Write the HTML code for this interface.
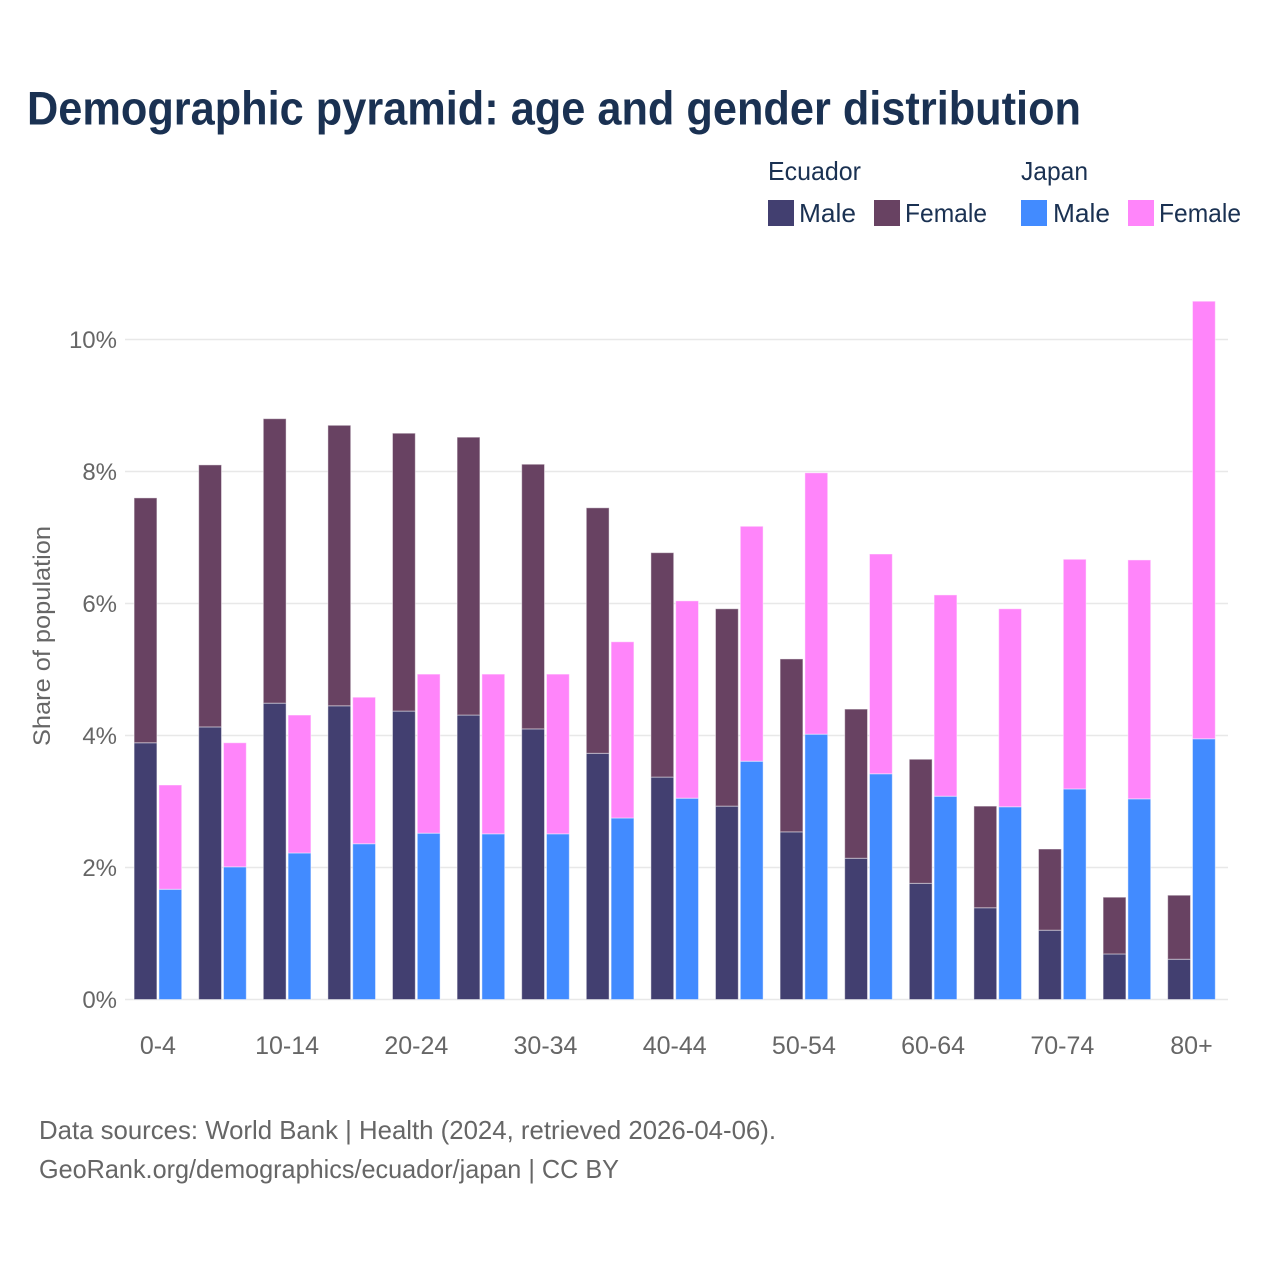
<!DOCTYPE html>
<html lang="en">
<head>
<meta charset="utf-8">
<title>Demographic pyramid</title>
<style>
html,body{margin:0;padding:0;background:#fff;}
svg{display:block;font-family:"Liberation Sans",sans-serif;}
</style>
</head>
<body>
<svg id="chart" xmlns="http://www.w3.org/2000/svg" width="1280" height="1280" viewBox="0 0 1280 1280">
  <rect x="0" y="0" width="1280" height="1280" fill="#ffffff"/>
  <text x="27" y="124.5" font-size="47" font-weight="700" fill="#1a3152" textLength="1054" lengthAdjust="spacingAndGlyphs">Demographic pyramid: age and gender distribution</text>

  <g font-size="26" fill="#1a3152">
    <text x="768" y="180" textLength="93" lengthAdjust="spacingAndGlyphs">Ecuador</text>
    <text x="1021" y="180" textLength="67" lengthAdjust="spacingAndGlyphs">Japan</text>
    <rect x="768" y="200" width="26" height="26" fill="#423f70"/>
    <text x="799" y="222" textLength="57" lengthAdjust="spacingAndGlyphs">Male</text>
    <rect x="874" y="200" width="26" height="26" fill="#684262"/>
    <text x="905" y="222" textLength="82" lengthAdjust="spacingAndGlyphs">Female</text>
    <rect x="1021" y="200" width="26" height="26" fill="#428bff"/>
    <text x="1053" y="222" textLength="57" lengthAdjust="spacingAndGlyphs">Male</text>
    <rect x="1128" y="200" width="26" height="26" fill="#ff85fa"/>
    <text x="1159" y="222" textLength="82" lengthAdjust="spacingAndGlyphs">Female</text>
  </g>

  <g id="grid"></g>
  <g id="bars"></g>
  <g id="y-axis"></g>
  <g id="x-axis"></g>

  <text transform="translate(50 636) rotate(-90)" text-anchor="middle" font-size="24" fill="#666666" textLength="220" lengthAdjust="spacingAndGlyphs">Share of population</text>

  <text x="39" y="1139" font-size="26" fill="#666666" textLength="737" lengthAdjust="spacingAndGlyphs">Data sources: World Bank | Health (2024, retrieved 2026-04-06).</text>
  <text x="39" y="1178" font-size="26" fill="#666666" textLength="580" lengthAdjust="spacingAndGlyphs">GeoRank.org/demographics/ecuador/japan | CC BY</text>
</svg>
<script>
const categories = ['0-4','5-9','10-14','15-19','20-24','25-29','30-34','35-39','40-44','45-49','50-54','55-59','60-64','65-69','70-74','75-79','80+'];
const ecuadorMale = [3.89,4.13,4.49,4.45,4.37,4.31,4.10,3.73,3.37,2.93,2.54,2.14,1.76,1.39,1.05,0.69,0.61];
const ecuadorFemale = [3.71,3.97,4.31,4.25,4.21,4.21,4.01,3.72,3.40,2.99,2.62,2.26,1.88,1.54,1.23,0.86,0.97];
const japanMale = [1.67,2.01,2.22,2.36,2.52,2.51,2.51,2.75,3.05,3.61,4.02,3.42,3.08,2.92,3.19,3.04,3.95];
const japanFemale = [1.58,1.88,2.09,2.22,2.41,2.42,2.42,2.67,2.99,3.56,3.96,3.33,3.05,3.00,3.48,3.62,6.63];
const yTicks = [0,2,4,6,8,10];
const xTickEvery = 2;

const NS = 'http://www.w3.org/2000/svg';
const plotLeft = 125;
const plotRight = 1228;
const plotBottom = 999.5;
const pxPerPercent = 66;
const bandStart = 157.9;
const bandStep = 64.6;
const barWidth = 22.8;
const barOffset = 12.4;

function yScale(v) { return plotBottom - v * pxPerPercent; }
function xScale(i) { return bandStart + i * bandStep; }

const gridGroup = document.getElementById('grid');
const barsGroup = document.getElementById('bars');
const yAxisGroup = document.getElementById('y-axis');
const xAxisGroup = document.getElementById('x-axis');

yTicks.forEach(function (t) {
  const line = document.createElementNS(NS, 'line');
  
  
  line.setAttribute('x1', plotLeft);
  line.setAttribute('x2', plotRight);
  line.setAttribute('y1', yScale(t));
  line.setAttribute('y2', yScale(t));
  line.setAttribute('stroke', '#e8e8e8');
  line.setAttribute('stroke-width', '1.5');
  gridGroup.appendChild(line);

  const label = document.createElementNS(NS, 'text');
  
  
  label.setAttribute('x', 117);
  label.setAttribute('y', yScale(t) + 8.5);
  label.setAttribute('text-anchor', 'end');
  label.setAttribute('font-size', '24');
  label.setAttribute('fill', '#666666');
  label.textContent = t + '%';
  yAxisGroup.appendChild(label);
});

function drawSegment(name, center, base, value, color) {
  const rect = document.createElementNS(NS, 'rect');
  
  
  rect.setAttribute('x', center - barWidth / 2);
  rect.setAttribute('y', yScale(base + value));
  rect.setAttribute('width', barWidth);
  rect.setAttribute('height', value * pxPerPercent);
  rect.setAttribute('fill', color);
  rect.setAttribute('stroke', '#ffffff');
  rect.setAttribute('stroke-opacity', '0.45');
  rect.setAttribute('stroke-width', '1');
  barsGroup.appendChild(rect);
}

categories.forEach(function (cat, i) {
  const cx = xScale(i);
  drawSegment('bar-ecuador-male-' + cat, cx - barOffset, 0, ecuadorMale[i], '#423f70');
  drawSegment('bar-ecuador-female-' + cat, cx - barOffset, ecuadorMale[i], ecuadorFemale[i], '#684262');
  drawSegment('bar-japan-male-' + cat, cx + barOffset, 0, japanMale[i], '#428bff');
  drawSegment('bar-japan-female-' + cat, cx + barOffset, japanMale[i], japanFemale[i], '#ff85fa');

  if (i % xTickEvery === 0) {
    const label = document.createElementNS(NS, 'text');
    
    
    label.setAttribute('x', cx);
    label.setAttribute('y', 1054);
    label.setAttribute('text-anchor', 'middle');
    label.setAttribute('font-size', '25');
    label.setAttribute('fill', '#666666');
    label.textContent = cat;
    xAxisGroup.appendChild(label);
  }
});
</script>
</body>
</html>
